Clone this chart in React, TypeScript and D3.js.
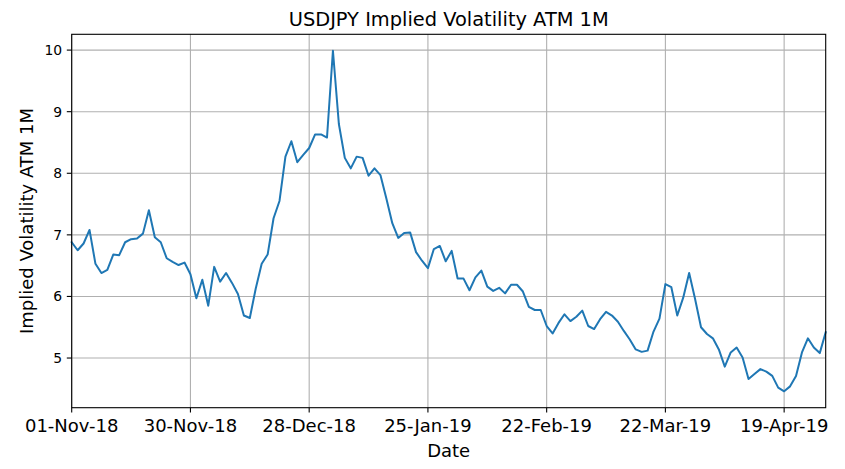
import React from "react";
import * as d3 from "d3";

const title = "USDJPY Implied Volatility ATM 1M";
const xLabel = "Date";
const yLabel = "Implied Volatility ATM 1M";

const volValues: number[] = [
  6.88, 6.75, 6.86, 7.08, 6.53, 6.38, 6.43, 6.68, 6.67, 6.88,
  6.93, 6.94, 7.02, 7.40, 6.96, 6.88, 6.62, 6.56, 6.51, 6.55,
  6.36, 5.97, 6.27, 5.85, 6.48, 6.24, 6.38, 6.22, 6.04, 5.69,
  5.65, 6.13, 6.53, 6.68, 7.27, 7.55, 8.27, 8.52, 8.18, 8.30,
  8.41, 8.63, 8.63, 8.58, 9.99, 8.80, 8.25, 8.08, 8.27, 8.25,
  7.96, 8.08, 7.97, 7.59, 7.19, 6.95, 7.03, 7.04, 6.72, 6.58,
  6.46, 6.77, 6.82, 6.57, 6.74, 6.29, 6.29, 6.10, 6.31, 6.42,
  6.16, 6.09, 6.14, 6.05, 6.19, 6.19, 6.08, 5.83, 5.78, 5.78,
  5.52, 5.40, 5.57, 5.71, 5.60, 5.67, 5.77, 5.52, 5.47, 5.63,
  5.75, 5.69, 5.59, 5.44, 5.30, 5.14, 5.10, 5.12, 5.43, 5.64,
  6.20, 6.15, 5.69, 5.98, 6.38, 5.96, 5.50, 5.39, 5.32, 5.14,
  4.86, 5.09, 5.17, 5.01, 4.66, 4.74, 4.82, 4.78, 4.71, 4.52,
  4.46, 4.54, 4.71, 5.09, 5.32, 5.17, 5.08, 5.42,
];

const xTickLabels: string[] = [
  "01-Nov-18",
  "30-Nov-18",
  "28-Dec-18",
  "25-Jan-19",
  "22-Feb-19",
  "22-Mar-19",
  "19-Apr-19",
];
const xTickIndices: number[] = [0, 20, 40, 60, 80, 100, 120];
const yTicks: number[] = [5, 6, 7, 8, 9, 10];

const W = 845;
const H = 469;
const left = 71.7;
const right = 825.7;
const top = 34.3;
const bottom = 407.7;
const FONT = "DejaVu Sans, sans-serif";

export default function App() {
  const n = volValues.length;
  const x = d3.scaleLinear().domain([0, n - 1]).range([left, right]);
  const vmin = d3.min(volValues) as number;
  const vmax = d3.max(volValues) as number;
  const pad = (vmax - vmin) * 0.05;
  const y = d3.scaleLinear().domain([vmin - pad + 0.01, vmax + pad - 0.01]).range([bottom, top]);

  const line = d3
    .line<number>()
    .x((_, i) => x(i))
    .y((v) => y(v));

  const gridColor = "#b0b0b0";

  return (
    <svg
      width={W}
      height={H}
      style={{ position: "absolute", left: 0, top: 0, background: "#fff" }}
      fontFamily={FONT}
    >
      <rect x={0} y={0} width={W} height={H} fill="#fff" />
      {xTickIndices.map((t) => (
        <line
          key={"gx" + t}
          x1={x(t)}
          x2={x(t)}
          y1={top}
          y2={bottom}
          stroke={gridColor}
          strokeWidth={1.1}
        />
      ))}
      {yTicks.map((t) => (
        <line
          key={"gy" + t}
          x1={left}
          x2={right}
          y1={y(t)}
          y2={y(t)}
          stroke={gridColor}
          strokeWidth={1.1}
        />
      ))}
      <path
        d={line(volValues) || ""}
        fill="none"
        stroke="#1f77b4"
        strokeWidth={2}
        strokeLinejoin="round"
        strokeLinecap="square"
      />
      <rect
        x={left}
        y={top}
        width={right - left}
        height={bottom - top}
        fill="none"
        stroke="#000"
        strokeWidth={1.1}
      />
      {xTickIndices.map((t, i) => (
        <g key={"xt" + t}>
          <line x1={x(t)} x2={x(t)} y1={bottom} y2={bottom + 4.9} stroke="#000" strokeWidth={1.1} />
          <text x={x(t)} y={432.3} textAnchor="middle" fontSize={18} fill="#000">
            {xTickLabels[i]}
          </text>
        </g>
      ))}
      {yTicks.map((t) => (
        <g key={"yt" + t}>
          <line x1={left - 4.9} x2={left} y1={y(t)} y2={y(t)} stroke="#000" strokeWidth={1.1} />
          <text
            x={left - 9.5}
            y={y(t)}
            dy="0.36em"
            textAnchor="end"
            fontSize={13.9}
            fill="#000"
          >
            {t}
          </text>
        </g>
      ))}
      <text x={(left + right) / 2} y={26} textAnchor="middle" fontSize={19.4} fill="#000">
        {title}
      </text>
      <text x={(left + right) / 2} y={456.7} textAnchor="middle" fontSize={18} fill="#000">
        {xLabel}
      </text>
      <text
        transform={`translate(33,${(top + bottom) / 2}) rotate(-90)`}
        textAnchor="middle"
        fontSize={18}
        fill="#000"
      >
        {yLabel}
      </text>
    </svg>
  );
}
